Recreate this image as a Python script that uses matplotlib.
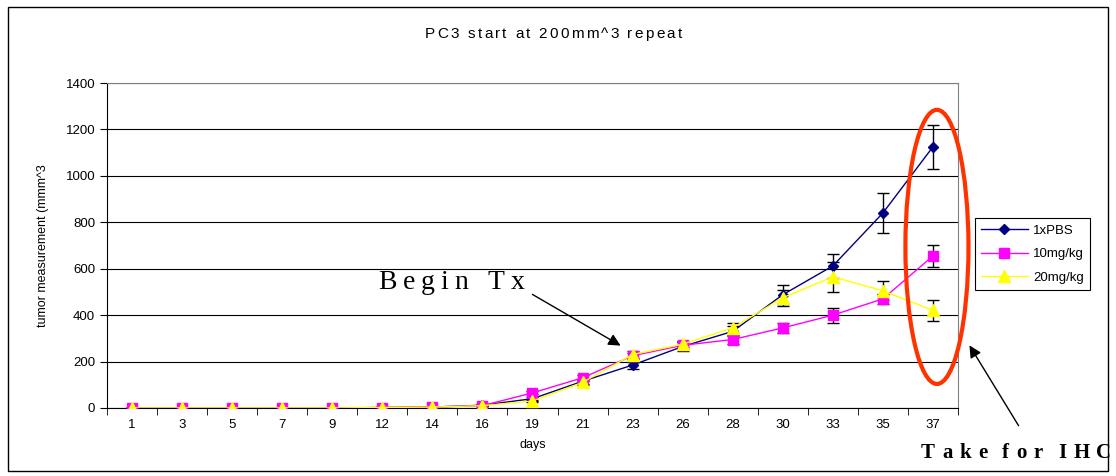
import numpy as np
import matplotlib
matplotlib.use('Agg')
import matplotlib.pyplot as plt
from matplotlib.patches import Ellipse, Rectangle
from matplotlib.lines import Line2D

# donnees
days = ['1', '3', '5', '7', '9', '12', '14', '16', '19', '21', '23', '26', '28', '30', '33', '35', '37']
pbs = [0, 0, 0, 0, 0, 2, 4, 12, 40, 115, 185, 265, 330, 488, 612, 840, 1125]
pbs_err = [0, 0, 0, 0, 0, 1, 2, 4, 8, 12, 15, 20, 22, 42, 52, 88, 95]
mg10 = [0, 0, 0, 0, 0, 2, 4, 10, 65, 130, 225, 270, 295, 345, 400, 470, 655]
mg10_err = [0, 0, 0, 0, 0, 1, 2, 3, 6, 12, 14, 15, 18, 22, 32, 22, 47]
mg20 = [0, 0, 0, 0, 0, 2, 4, 10, 30, 110, 230, 275, 345, 475, 565, 505, 420]
mg20_err = [0, 0, 0, 0, 0, 1, 2, 3, 6, 10, 15, 14, 20, 35, 65, 40, 47]

plt.rcParams['font.family'] = ['Liberation Sans', 'DejaVu Sans']

W, H = 1116, 476
fig = plt.figure(figsize=(W / 100, H / 100), dpi=100)
renderer = fig.canvas.get_renderer()


def spaced_text(x0, y0, s, gap, space=None, **kw):
    """ecrit le texte lettre par lettre avec un espacement (en pixels)"""
    cur = x0
    if space is None:
        space = kw.get('fontsize', 10) * 0.35 + gap
    for ch in s:
        if ch == ' ':
            cur += space
            continue
        t = fig.text(cur / W, 1 - y0 / H, ch, va='baseline', ha='left', **kw)
        cur += t.get_window_extent(renderer).width + gap


ax = fig.add_axes([0.0959, 0.1429, 0.7625, 0.6827])
x = np.arange(len(days))

series = [
    (pbs, pbs_err, '#000080', 'D', 5, '1xPBS'),
    (mg10, mg10_err, '#ff00ff', 's', 7, '10mg/kg'),
    (mg20, mg20_err, '#ffff00', '^', 8, '20mg/kg'),
]
handles = []
for vals, err, col, mk, ms, lab in series:
    ax.errorbar(x, vals, yerr=err, color=col, marker=mk, markersize=ms, lw=1,
                ecolor='black', elinewidth=1, capsize=4, capthick=1,
                markeredgecolor=col, zorder=3)
    handles.append(Line2D([], [], color=col, marker=mk, markersize=ms, lw=1,
                          markeredgecolor=col, label=lab))

ax.set_xlim(-0.5, len(days) - 0.5)
ax.set_ylim(0, 1400)
ax.set_yticks(range(0, 1401, 200))
ax.yaxis.grid(True, color='black', lw=0.8)
ax.set_axisbelow(True)
ax.set_xticks(x)
ax.set_xticklabels(days)
ax.set_xticks(np.arange(-0.5, len(days), 1), minor=True)
ax.tick_params(axis='x', which='major', length=0, pad=8, labelsize=9.5)
ax.tick_params(axis='x', which='minor', length=5)
ax.tick_params(axis='y', labelsize=9.5, length=5)
for s in ['top', 'right']:
    ax.spines[s].set_color('#808080')
ax.set_xlabel('days', fontsize=9, labelpad=6)
ax.set_ylabel('tumor measurement (mmm^3', fontsize=9, labelpad=12)

spaced_text(425, 38, 'PC3 start at 200mm^3 repeat', 2.3, fontsize=11)

leg = ax.legend(handles=handles, loc='upper left', bbox_to_anchor=(1.012, 0.605),
                fontsize=9.5, fancybox=False, edgecolor='black', framealpha=1,
                handlelength=3.5, borderpad=0.5, labelspacing=0.85, handletextpad=0.4)
leg.get_frame().set_linewidth(0.8)

# ellipse rouge autour du dernier jour
ax.add_patch(Ellipse((16.08, 694), 1.26, 1181, fill=False, edgecolor='#ff3300',
                     lw=3, clip_on=False, zorder=5))

ax.annotate('', xy=(623 / W, 1 - 347 / H), xycoords='figure fraction',
            xytext=(530 / W, 1 - 293 / H), textcoords='figure fraction',
            arrowprops=dict(arrowstyle='-|>', color='black', lw=1, mutation_scale=18))
spaced_text(378, 289, 'Begin Tx', 6, fontsize=20, family='Liberation Serif')

ax.annotate('', xy=(968 / W, 1 - 343 / H), xycoords='figure fraction',
            xytext=(1020 / W, 1 - 428 / H), textcoords='figure fraction',
            arrowprops=dict(arrowstyle='-|>', color='black', lw=1, mutation_scale=18))
spaced_text(921, 458, 'Take for IHC', 7, space=8, fontsize=15,
            family='Liberation Serif', weight='bold')

# cadre exterieur
fig.patches.append(Rectangle((8 / W, 0.01), 1100 / W, 0.975, transform=fig.transFigure,
                             fill=False, edgecolor='black', lw=1))

fig.savefig('out.png', dpi=100)
